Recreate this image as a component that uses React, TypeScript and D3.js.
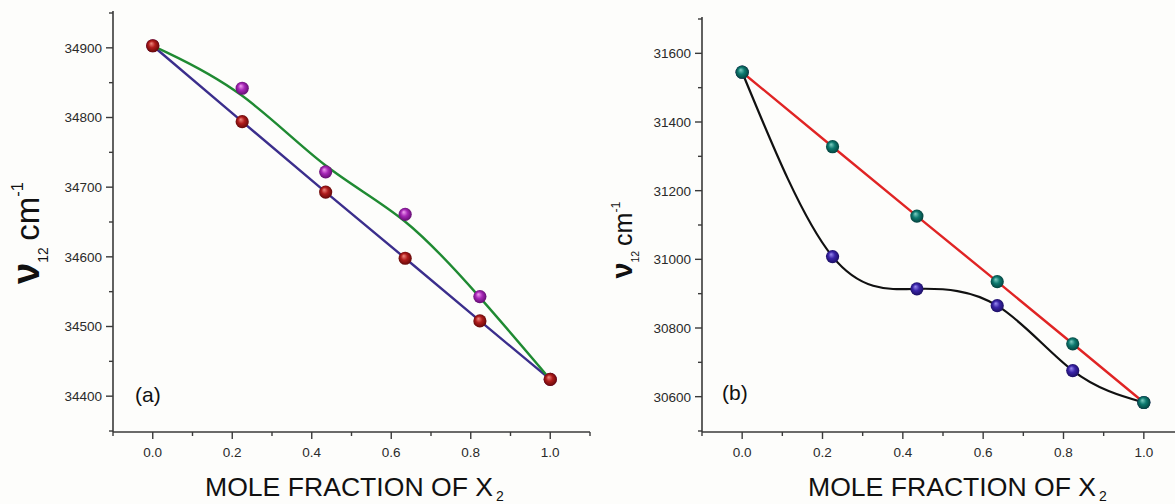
import React from "react";
import * as d3 from "d3";

const moleFractions = [0, 0.225, 0.435, 0.635, 0.823, 1.0];
const panelA_blue = [34903, 34794, 34693, 34598, 34508, 34424];
const panelA_magenta = [34903, 34842, 34722, 34661, 34543, 34424];
const panelB_teal = [31545, 31328, 31126, 30935, 30754, 30583];
const panelB_purple = [31545, 31008, 30914, 30865, 30676, 30583];

const xTicks = [0, 0.2, 0.4, 0.6, 0.8, 1.0];
const xMinor = [-0.1, 0.1, 0.3, 0.5, 0.7, 0.9, 1.1];
const yTicksA = [34400, 34500, 34600, 34700, 34800, 34900];
const yMinorA = [34350, 34450, 34550, 34650, 34750, 34850, 34950];
const yTicksB = [30600, 30800, 31000, 31200, 31400, 31600];
const yMinorB = [30500, 30700, 30900, 31100, 31300, 31500, 31700];

const FONT = "Arial, 'Liberation Sans', Helvetica, sans-serif";
const AX = "#3a3a3a";

type PanelProps = {
  x0: number; x1: number; yTop: number; yBot: number;
  yDomain: [number, number];
  yTicks: number[]; yMinor: number[];
  label: string;
  labelFont: number; labelX: number; labelY: number;
  series: { vals: number[]; color: string; marker: string; curve: any; width: number }[];
  tagX: number; tagY: number;
  titleX: number;
};

function Panel(p: PanelProps) {
  const x = d3.scaleLinear().domain([-0.1, 1.1]).range([p.x0, p.x1]);
  const y = d3.scaleLinear().domain(p.yDomain).range([p.yBot, p.yTop]);
  const axisY = 432;
  return (
    <g>
      <line x1={p.x0} x2={p.x0} y1={p.yTop - 2} y2={axisY} stroke={AX} strokeWidth={1.6} />
      <line x1={p.x0} x2={p.x1} y1={axisY} y2={axisY} stroke={AX} strokeWidth={1.6} />
      {p.yTicks.map((t) => (
        <g key={"yt" + t}>
          <line x1={p.x0 - 7} x2={p.x0} y1={y(t)} y2={y(t)} stroke={AX} strokeWidth={1.4} />
          <text x={p.x0 - 11} y={y(t)} dy="0.36em" textAnchor="end" fontSize={13.5} fill="#2a2a2a" fontFamily={FONT}>
            {t}
          </text>
        </g>
      ))}
      {p.yMinor.map((t) => (
        <line key={"ym" + t} x1={p.x0 - 4} x2={p.x0} y1={y(t)} y2={y(t)} stroke={AX} strokeWidth={1.4} />
      ))}
      {xTicks.map((t) => (
        <g key={"xt" + t}>
          <line x1={x(t)} x2={x(t)} y1={axisY} y2={axisY + 7} stroke={AX} strokeWidth={1.4} />
          <text x={x(t)} y={457} textAnchor="middle" fontSize={13.5} fill="#2a2a2a" fontFamily={FONT}>
            {d3.format(".1f")(t)}
          </text>
        </g>
      ))}
      {xMinor.map((t) => (
        <line key={"xm" + t} x1={x(t)} x2={x(t)} y1={axisY} y2={axisY + 4} stroke={AX} strokeWidth={1.4} />
      ))}
      {p.series.map((s, i) => {
        const line = d3
          .line<number>()
          .x((_, j) => x(moleFractions[j]))
          .y((v) => y(v))
          .curve(s.curve);
        return <path key={"l" + i} d={line(s.vals) || ""} fill="none" stroke={s.color} strokeWidth={s.width} />;
      })}
      {p.series
        .slice()
        .reverse()
        .map((s, i) => (
          <g key={"m" + i}>
            {s.vals.map((v, j) => (
              <circle key={j} cx={x(moleFractions[j])} cy={y(v)} r={6.6} fill={`url(#${s.marker})`} />
            ))}
          </g>
        ))}
      <text x={p.tagX} y={p.tagY} fontSize={21} fill="#111" fontFamily={FONT}>
        {p.label}
      </text>
      <text x={p.titleX} y={496} fontSize={26} fill="#111" fontFamily={FONT} textLength={288} lengthAdjust="spacingAndGlyphs">
        MOLE FRACTION OF X
      </text>
      <text x={p.titleX + 291} y={501} fontSize={14} fill="#111" fontFamily={FONT}>
        2
      </text>
      <g transform={`translate(${p.labelX},${p.labelY}) rotate(-90)`}>
        <text textAnchor="middle" fontFamily={FONT} fill="#111">
          <tspan fontSize={p.labelFont * 1.15} fontWeight="bold">ν</tspan>
          <tspan fontSize={p.labelFont * 0.42} dy={p.labelFont * 0.28}>12</tspan>
          <tspan fontSize={p.labelFont} dy={-p.labelFont * 0.28} dx={p.labelFont * 0.2}>cm</tspan>
          <tspan fontSize={p.labelFont * 0.5} dy={-p.labelFont * 0.5}>-1</tspan>
        </text>
      </g>
    </g>
  );
}

function grad(id: string, light: string, mid: string, dark: string) {
  return (
    <radialGradient id={id} cx="0.5" cy="0.5" r="0.55" fx="0.38" fy="0.32">
      <stop offset="0" stopColor={light} />
      <stop offset="0.45" stopColor={mid} />
      <stop offset="1" stopColor={dark} />
    </radialGradient>
  );
}

export default function App() {
  return (
    <div style={{ position: "absolute", left: 0, top: 0 }}>
      <svg width={1175} height={504} style={{ display: "block", background: "#fdfdfb" }}>
        <defs>
          {grad("mRed", "#f08a80", "#b01c1c", "#5a0606")}
          {grad("mMag", "#f0a0f0", "#a828b8", "#5a0a68")}
          {grad("mTeal", "#80d0c4", "#0e7a70", "#033a36")}
          {grad("mPur", "#9a8cf0", "#3a24a8", "#180c5a")}
        </defs>
        <Panel
          x0={113}
          x1={590}
          yTop={13}
          yBot={431}
          yDomain={[34350, 34950]}
          yTicks={yTicksA}
          yMinor={yMinorA}
          label="(a)"
          labelFont={33}
          labelX={39}
          labelY={233}
          tagX={135}
          tagY={402}
          titleX={205}
          series={[
            { vals: panelA_blue, color: "#3b2e8c", marker: "mRed", curve: d3.curveLinear, width: 2.4 },
            { vals: panelA_magenta, color: "#1f8a32", marker: "mMag", curve: d3.curveBasis, width: 2.4 },
          ]}
        />
        <Panel
          x0={702}
          x1={1184}
          yTop={19}
          yBot={431}
          yDomain={[30500, 31700]}
          yTicks={yTicksB}
          yMinor={yMinorB}
          label="(b)"
          labelFont={25}
          labelX={632}
          labelY={240}
          tagX={722}
          tagY={400}
          titleX={808}
          series={[
            { vals: panelB_teal, color: "#e02424", marker: "mTeal", curve: d3.curveLinear, width: 2.4 },
            { vals: panelB_purple, color: "#111111", marker: "mPur", curve: d3.curveNatural, width: 2.2 },
          ]}
        />
      </svg>
    </div>
  );
}
